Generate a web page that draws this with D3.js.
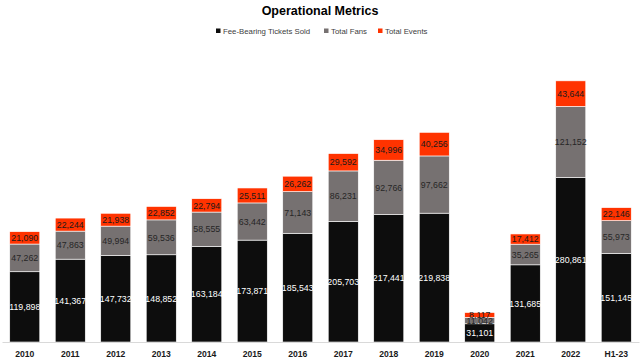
<!DOCTYPE html>
<html>
<head>
<meta charset="utf-8">
<script src="https://cdn.jsdelivr.net/npm/d3@7"></script>
<style>
  body { margin: 0; background: #fff; }
  svg { display: block; font-family: "Liberation Sans", Arial, sans-serif; }
</style>
</head>
<body>
<div id="chart"></div>
<script>
// chart data
const years = ["2010", "2011", "2012", "2013", "2014", "2015", "2016", "2017", "2018", "2019", "2020", "2021", "2022", "H1-23"];
const ticketsSold = [119898, 141367, 147732, 148852, 163184, 173871, 185543, 205703, 217441, 219838, 31101, 131685, 280861, 151145];
const totalFans = [47262, 47863, 49994, 59536, 58555, 63442, 71143, 86231, 92766, 97662, 11042, 35265, 121152, 55973];
const totalEvents = [21090, 22244, 21938, 22852, 22794, 25511, 26262, 29592, 34996, 40256, 8117, 17412, 43644, 22146];

const seriesNames = ["Fee-Bearing Tickets Sold", "Total Fans", "Total Events"];
const colors = ["#0d0d0d", "#767171", "#ff3300"];
const labelColors = ["#ffffff", "#262626", "#1a1a1a"];

const width = 640, height = 363;
const margin = { top: 49, right: 1, bottom: 21, left: 2 };

const svg = d3.select("#chart").append("svg")
  .attr("width", width)
  .attr("height", height);

// title
svg.append("text")
  .attr("x", 320).attr("y", 15)
  .attr("text-anchor", "middle")
  .attr("font-size", 12.5).attr("font-weight", "bold")
  .attr("fill", "#000")
  .text("Operational Metrics");

// legend
const legendX = [216, 324, 378];
const legend = svg.append("g").selectAll("g")
  .data(seriesNames)
  .join("g")
  .attr("transform", (d, i) => `translate(${legendX[i]},31)`);
legend.append("rect")
  .attr("x", 0).attr("y", -2.5).attr("width", 4.5).attr("height", 4.5)
  .attr("fill", (d, i) => colors[i]);
legend.append("text")
  .attr("x", 7).attr("y", 2.5)
  .attr("font-size", 7.8).attr("fill", "#404040")
  .text(d => d);

// stack
const table = years.map((y, i) => ({ year: y, s0: ticketsSold[i], s1: totalFans[i], s2: totalEvents[i] }));
const stack = d3.stack().keys(["s0", "s1", "s2"])(table);

const x = d3.scaleBand()
  .domain(years)
  .range([margin.left, width - margin.right])
  .paddingInner(0.34)
  .paddingOuter(0.17);

const y = d3.scaleLinear()
  .domain([0, 500000])
  .range([height - margin.bottom, margin.top]);

// bars
const layers = svg.append("g").selectAll("g")
  .data(stack)
  .join("g")
  .attr("fill", (d, i) => colors[i]);

layers.selectAll("rect")
  .data(d => d)
  .join("rect")
  .attr("x", d => x(d.data.year))
  .attr("y", d => y(d[1]))
  .attr("width", x.bandwidth())
  .attr("height", d => y(d[0]) - y(d[1]))
  .attr("stroke", "#ffffff")
  .attr("stroke-width", 0.6);

// value labels
const fmt = d3.format(",");
stack.forEach((layer, i) => {
  svg.append("g").selectAll("text")
    .data(layer)
    .join("text")
    .attr("x", d => x(d.data.year) + x.bandwidth() / 2)
    .attr("y", d => (y(d[0]) + y(d[1])) / 2 + 3.2)
    .attr("text-anchor", "middle")
    .attr("font-size", 8.8)
    .attr("fill", labelColors[i])
    .text(d => fmt(d[1] - d[0]));
});

// axis
const xAxis = svg.append("g")
  .attr("transform", `translate(0,${height - margin.bottom})`)
  .call(d3.axisBottom(x).tickSize(0).tickPadding(9));
xAxis.select(".domain").attr("stroke", "#d9d9d9");
xAxis.selectAll("text")
  .attr("font-size", 8.6)
  .attr("font-weight", "bold")
  .attr("fill", "#1a1a1a")
  .attr("font-family", "Liberation Sans, Arial, sans-serif");
</script>
</body>
</html>
